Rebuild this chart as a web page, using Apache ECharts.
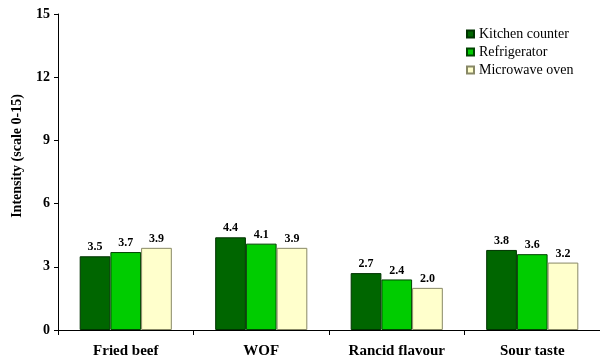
<!DOCTYPE html>
<html>
<head>
<meta charset="utf-8">
<script src="https://cdn.jsdelivr.net/npm/echarts@6/dist/echarts.min.js"></script>
<style>
  html, body { margin: 0; padding: 0; background: #fff; }
  #chart { width: 600px; height: 360px; }
</style>
</head>
<body>
<div id="chart"></div>
<script>
// Sensory attribute intensities by storage location
const categories = ['Fried beef', 'WOF', 'Rancid flavour', 'Sour taste'];
const kitchenCounter = [3.5, 4.4, 2.7, 3.8];
const refrigerator = [3.7, 4.1, 2.4, 3.6];
const microwaveOven = [3.9, 3.9, 2.0, 3.2];
const yTicks = [0, 3, 6, 9, 12, 15];

const serif = '"Liberation Serif", "Times New Roman", serif';

const labelStyle = {
  show: true,
  position: 'top',
  distance: 3,
  fontFamily: serif,
  fontWeight: 'bold',
  fontSize: 12,
  color: '#000',
  formatter: p => p.value.toFixed(1)
};

function bar(name, data, color, border) {
  return {
    name, type: 'bar', data,
    barGap: '0%',
    barCategoryGap: '32%',
    itemStyle: { color, borderColor: border, borderWidth: 1 },
    label: labelStyle,
    emphasis: { disabled: true }
  };
}

const chart = echarts.init(document.getElementById('chart'), null, { renderer: 'canvas' });
chart.setOption({
  animation: false,
  backgroundColor: '#fff',
  grid: { left: 58, right: 0, top: 14, bottom: 30, containLabel: false, outerBoundsMode: 'none' },
  legend: {
    orient: 'vertical',
    left: 461,
    top: 22,
    itemWidth: 7,
    itemHeight: 7,
    itemGap: 4,
    icon: 'rect',
    textStyle: { fontFamily: serif, fontSize: 14, lineHeight: 14, color: '#000', padding: [0, 0, 0, 0] },
    data: ['Kitchen counter', 'Refrigerator', 'Microwave oven']
  },
  xAxis: {
    type: 'category',
    data: categories,
    axisLine: { lineStyle: { color: '#000', width: 1 } },
    axisTick: { show: true, length: 5, lineStyle: { color: '#000' } },
    axisLabel: { fontFamily: serif, fontWeight: 'bold', fontSize: 15, color: '#000', margin: 14 }
  },
  yAxis: {
    type: 'value',
    min: yTicks[0],
    max: yTicks[yTicks.length - 1],
    interval: 3,
    name: 'Intensity (scale 0-15)',
    nameLocation: 'middle',
    nameGap: 34,
    nameRotate: 90,
    nameTextStyle: { fontFamily: serif, fontWeight: 'bold', fontSize: 14, color: '#000', padding: [0, 0, 0, 32] },
    axisLine: { show: true, lineStyle: { color: '#000', width: 1 } },
    axisTick: { show: true, length: 4, inside: false, lineStyle: { color: '#000' } },
    splitLine: { show: false },
    axisLabel: { fontFamily: serif, fontWeight: 'bold', fontSize: 14, color: '#000', margin: 8 }
  },
  series: [
    bar('Kitchen counter', kitchenCounter, '#006600', '#003300'),
    bar('Refrigerator', refrigerator, '#00cc00', '#004400'),
    bar('Microwave oven', microwaveOven, '#ffffcc', '#888866')
  ]
});
</script>
</body>
</html>
